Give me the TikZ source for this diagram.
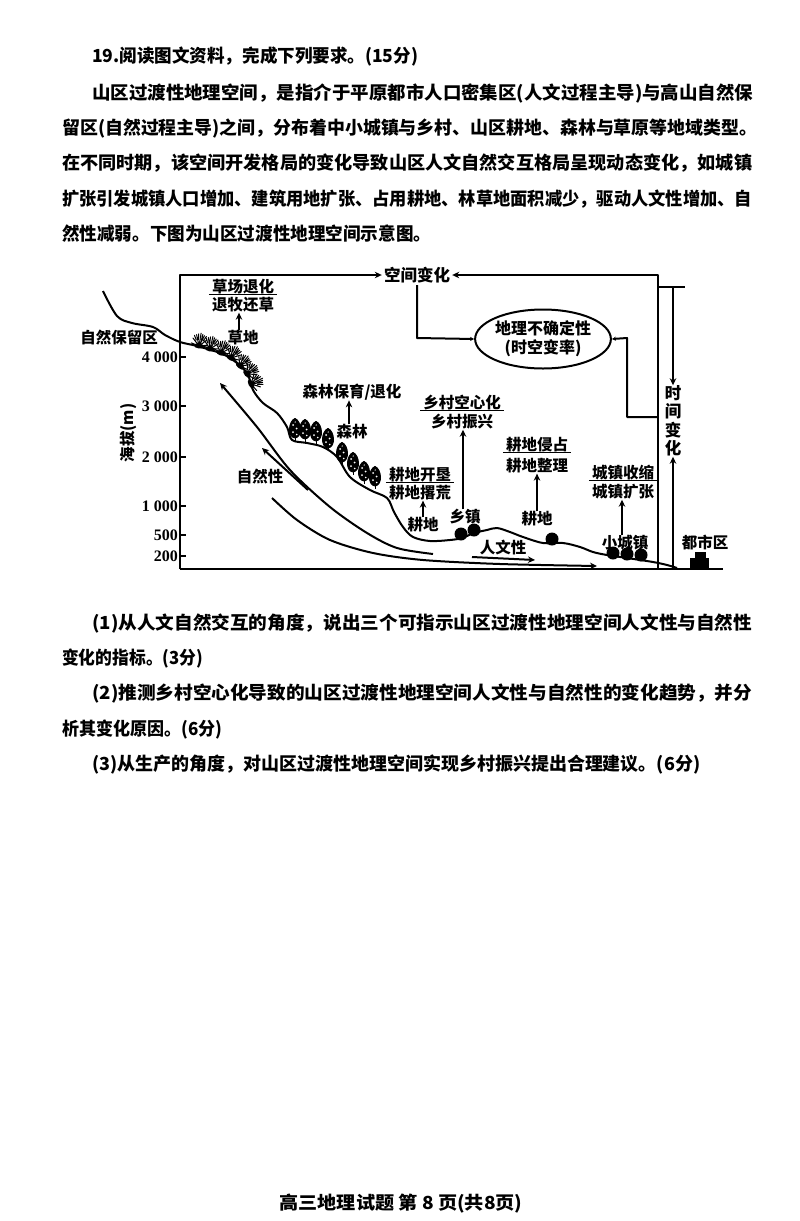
\documentclass[tikz,border=0pt]{standalone}
\usepackage{fontspec}
\usepackage{graphicx}
\setmainfont{Noto Sans CJK SC}
\newfontfamily\numfont{Liberation Serif}
\usetikzlibrary{arrows.meta,shapes.geometric}
\tikzset{
  mytree/.pic={
    \draw[line width=1pt] (0,0) -- (0,-5);
    \filldraw[line width=1pt, fill=black] (0,-3) .. controls (-8,-4) and (-6.5,-20) .. (0,-22.5) .. controls (6.5,-20) and (8,-4) .. (0,-3);
    \fill[white] (-1.8,-16) circle (1) (1.6,-12.5) circle (1) (-2,-9) circle (1) (1.8,-6.5) circle (0.9) (0.2,-19) circle (0.7);
  },
  mytuft/.pic={
    \fill (0,0) ellipse [x radius=5, y radius=2.5];
    \draw[line width=1pt, line cap=round] (0,0) -- (-8,-2) (0,0) -- (-7,-7) (0,0) -- (-4,-11) (0,0) -- (0.3,-13) (0,0) -- (4,-11) (0,0) -- (7,-7) (0,0) -- (8.5,-2)
      (-3.5,-5.5) -- (-6,-10) (3.5,-5.5) -- (6,-10.5) (-1.5,-6) -- (-2,-12) (1.5,-6) -- (2.2,-12);
  }
}
\begin{document}
\begin{tikzpicture}[x=1pt,y=-1pt,line join=round,
  ln/.style={line width=2pt},
  arr/.style={line width=2pt,-{Stealth[length=7pt,width=6.5pt]}},
  sarr/.style={line width=2pt,-{Stealth[length=4pt,width=4pt]}},
  lab/.style={inner sep=0pt,font=\fontsize{15.5}{17}\selectfont\bfseries},
  num/.style={inner sep=0pt,anchor=east,font=\numfont\fontsize{16}{18}\selectfont\bfseries},
  txt/.style={inner sep=0pt,anchor=base west,font=\fontsize{18}{22}\selectfont\bfseries},
  ell/.style={ellipse,draw,line width=2pt,minimum width=117pt,minimum height=59pt,inner sep=0pt,align=center,font=\fontsize{16}{19}\selectfont\bfseries},
  uline/.style={line width=1.3pt}
]
\useasboundingbox[fill=white] (0,0) rectangle (800,1221);

% ---------- text ----------
\node[txt] (l1) at (92,62) {\resizebox{326pt}{\height}{19.阅读图文资料，完成下列要求。(15分)}};
\node[txt] (l2) at (92,99) {\resizebox{661pt}{\height}{山区过渡性地理空间，是指介于平原都市人口密集区(人文过程主导)与高山自然保}};
\node[txt] (l3) at (62,134) {\resizebox{695pt}{\height}{留区(自然过程主导)之间，分布着中小城镇与乡村、山区耕地、森林与草原等地域类型。}};
\node[txt] (l4) at (62,169) {\resizebox{690pt}{\height}{在不同时期，该空间开发格局的变化导致山区人文自然交互格局呈现动态变化，如城镇}};
\node[txt] (l5) at (62,205) {\resizebox{690pt}{\height}{扩张引发城镇人口增加、建筑用地扩张、占用耕地、林草地面积减少，驱动人文性增加、自}};
\node[txt] (l6) at (62,240) {\resizebox{369pt}{\height}{然性减弱。下图为山区过渡性地理空间示意图。}};

\node[txt] (q1) at (92,629) {\resizebox{660pt}{\height}{(1)从人文自然交互的角度，说出三个可指示山区过渡性地理空间人文性与自然性}};
\node[txt] (q1b) at (62,664) {\resizebox{141pt}{\height}{变化的指标。(3分)}};
\node[txt] (q2) at (92,699) {\resizebox{660pt}{\height}{(2)推测乡村空心化导致的山区过渡性地理空间人文性与自然性的变化趋势，并分}};
\node[txt] (q2b) at (62,735) {\resizebox{160pt}{\height}{析其变化原因。(6分)}};
\node[txt] (q3) at (92,770) {\resizebox{608pt}{\height}{(3)从生产的角度，对山区过渡性地理空间实现乡村振兴提出合理建议。(6分)}};

\node[txt,anchor=base] (ft) at (401,1209) {\resizebox{243pt}{\height}{高三地理试题 第 8 页(共8页)}};

% ---------- frame ----------
\coordinate (o) at (180,569);
\coordinate (tl) at (180,275);
\coordinate (tr) at (658,275);
\coordinate (br) at (658,569);
\coordinate (be) at (723,569);
\node[lab,inner sep=2pt,font=\fontsize{16.5}{18}\selectfont\bfseries] (kj) at (417,275) {空间变化};
\draw[arr] (o) -- (tl) -- (kj.west);
\draw[arr] (br) -- (tr) -- (kj.east);
\draw[ln] (o) -- (be);

% y axis
\foreach \y/\t in {357/4 000,406/3 000,457/2 000,506/1 000,535/500,556/200}{
  \draw[ln] (180,\y) -- (186,\y);
  \node[num] (ylab\y) at (178,\y) {\t};
}
\node[lab,rotate=90] (hb) at (128,433) {海拔(m)};

% uncertainty ellipse
\node[ell] (ell) at (543,339) {地理不确定性\\(时空变率)};
\coordinate (k1) at (417,338);
\draw[sarr] (kj.south) -- (k1) -- (ell.west);
\coordinate (r1) at (658,417);
\coordinate (r2) at (627,417);
\coordinate (r3) at (627,338);
\draw[sarr] (r1) -- (r2) -- (r3) -- (ell.east);

% time change
\coordinate (t0) at (658,287);
\coordinate (t1) at (685,287);
\coordinate (t2) at (673,287);
\coordinate (t3) at (673,569);
\draw[ln] (t0) -- (t1);
\node[lab,align=center,font=\fontsize{16.5}{18.5}\selectfont\bfseries] (sj) at (673,421) {时\\间\\变\\化};
\draw[arr] (t2) -- (sj.north);
\draw[arr] (t3) -- (sj.south);

% ---------- mountain profile ----------
\draw[ln] plot[smooth,tension=0.55] coordinates {(103,291) (117,316) (132,323) (153,327) (165,335) (180,342) (197,346) (220,353) (233,360) (247,373) (253,390) (263,403) (277,413) (287,427) (292,440) (307,443) (323,447) (337,457) (350,477) (370,490) (387,498) (394,512) (403,527) (413,537) (430,541) (450,540) (462,538) (474,533) (487,530) (497,528) (510,532) (523,537) (543,543) (563,543) (580,547) (593,552) (607,555) (627,558) (653,562) (667,565) (677,568)};

% grass tufts
\pic[rotate=-8] at (199,346) {mytuft};
\pic[rotate=-12] at (210,349) {mytuft};
\pic[rotate=-18] at (221,353) {mytuft};
\pic[rotate=-28] at (231,358) {mytuft};
\pic[rotate=-38] at (240,366) {mytuft};
\pic[rotate=-48] at (247,374) {mytuft};
\pic[rotate=-62] at (251,384) {mytuft};

% trees
\pic at (295,441) {mytree};
\pic at (305,442) {mytree};
\pic at (316,444) {mytree};
\pic at (328,451) {mytree};
\pic at (342,465) {mytree};
\pic at (353,475) {mytree};
\pic at (364,484) {mytree};
\pic at (375,489) {mytree};

% settlements
\fill (461,534) circle (6.5);
\fill (474,530) circle (6.5);
\fill (552,539) circle (6.5);
\fill (613,553) circle (6.5);
\fill (627,554) circle (6.5);
\fill (641,555) circle (6.5);
% city
\fill (695,552) rectangle (706,559);
\fill (690,558) rectangle (709,569);

% ---------- natural / human arrows ----------
\draw[arr] plot[smooth,tension=0.5] coordinates {(433,554) (397,548) (367,533) (330,507) (290,470) (257,427) (220,383)};
\draw[arr] (308,490) -- (262,448);
\draw[arr] plot[smooth,tension=0.5] coordinates {(272,498) (297,520) (330,540) (373,553) (423,560) (500,564) (597,566)};
\draw[arr] (472,557) -- (535,560);

% ---------- labels ----------
\node[lab] (zr) at (119,338) {自然保留区};
\node[lab] (a1) at (243,287) {草场退化};
\node[lab] (a2) at (243,305) {退牧还草};
\draw[uline] ([xshift=-3pt]a1.south west) -- ([xshift=3pt]a1.south east);
\node[lab] (cd) at (243,338) {草地};
\draw[arr] ([xshift=-4pt]cd.north) -- ([xshift=-4pt]a2.south);

\node[lab] (b1) at (352,392) {森林保育/退化};
\node[lab] (sl) at (352,432) {森林};
\draw[arr] ([xshift=-3pt]sl.north) -- ([xshift=-3pt]b1.south);

\node[lab] (zrx) at (260,477) {自然性};

\node[lab] (c1) at (462,403) {乡村空心化};
\node[lab] (c2) at (462,422) {乡村振兴};
\draw[uline] ([xshift=-3pt]c1.south west) -- ([xshift=3pt]c1.south east);
\node[lab] (xz) at (465,517) {乡镇};
\draw[arr] ([xshift=-2pt]xz.north) -- ([xshift=1pt]c2.south);

\node[lab] (d1) at (420,475) {耕地开垦};
\node[lab] (d2) at (420,493) {耕地撂荒};
\draw[uline] ([xshift=-3pt]d1.south west) -- ([xshift=3pt]d1.south east);
\node[lab] (gd1) at (423,525) {耕地};
\draw[arr] (gd1.north) -- ([xshift=3pt]d2.south);

\node[lab] (e1) at (537,445) {耕地侵占};
\node[lab] (e2) at (537,466) {耕地整理};
\draw[uline] ([xshift=-3pt]e1.south west) -- ([xshift=3pt]e1.south east);
\node[lab] (gd2) at (537,519) {耕地};
\draw[arr] (gd2.north) -- (e2.south);

\node[lab] (f1) at (623,473) {城镇收缩};
\node[lab] (f2) at (623,492) {城镇扩张};
\draw[uline] ([xshift=-3pt]f1.south west) -- ([xshift=3pt]f1.south east);
\node[lab] (xcz) at (625,543) {小城镇};
\draw[arr] ([xshift=-3pt]xcz.north) -- ([xshift=-1pt]f2.south);

\node[lab] (rwx) at (503,548) {人文性};
\node[lab] (dsq) at (705,542) {都市区};
\end{tikzpicture}
\end{document}
